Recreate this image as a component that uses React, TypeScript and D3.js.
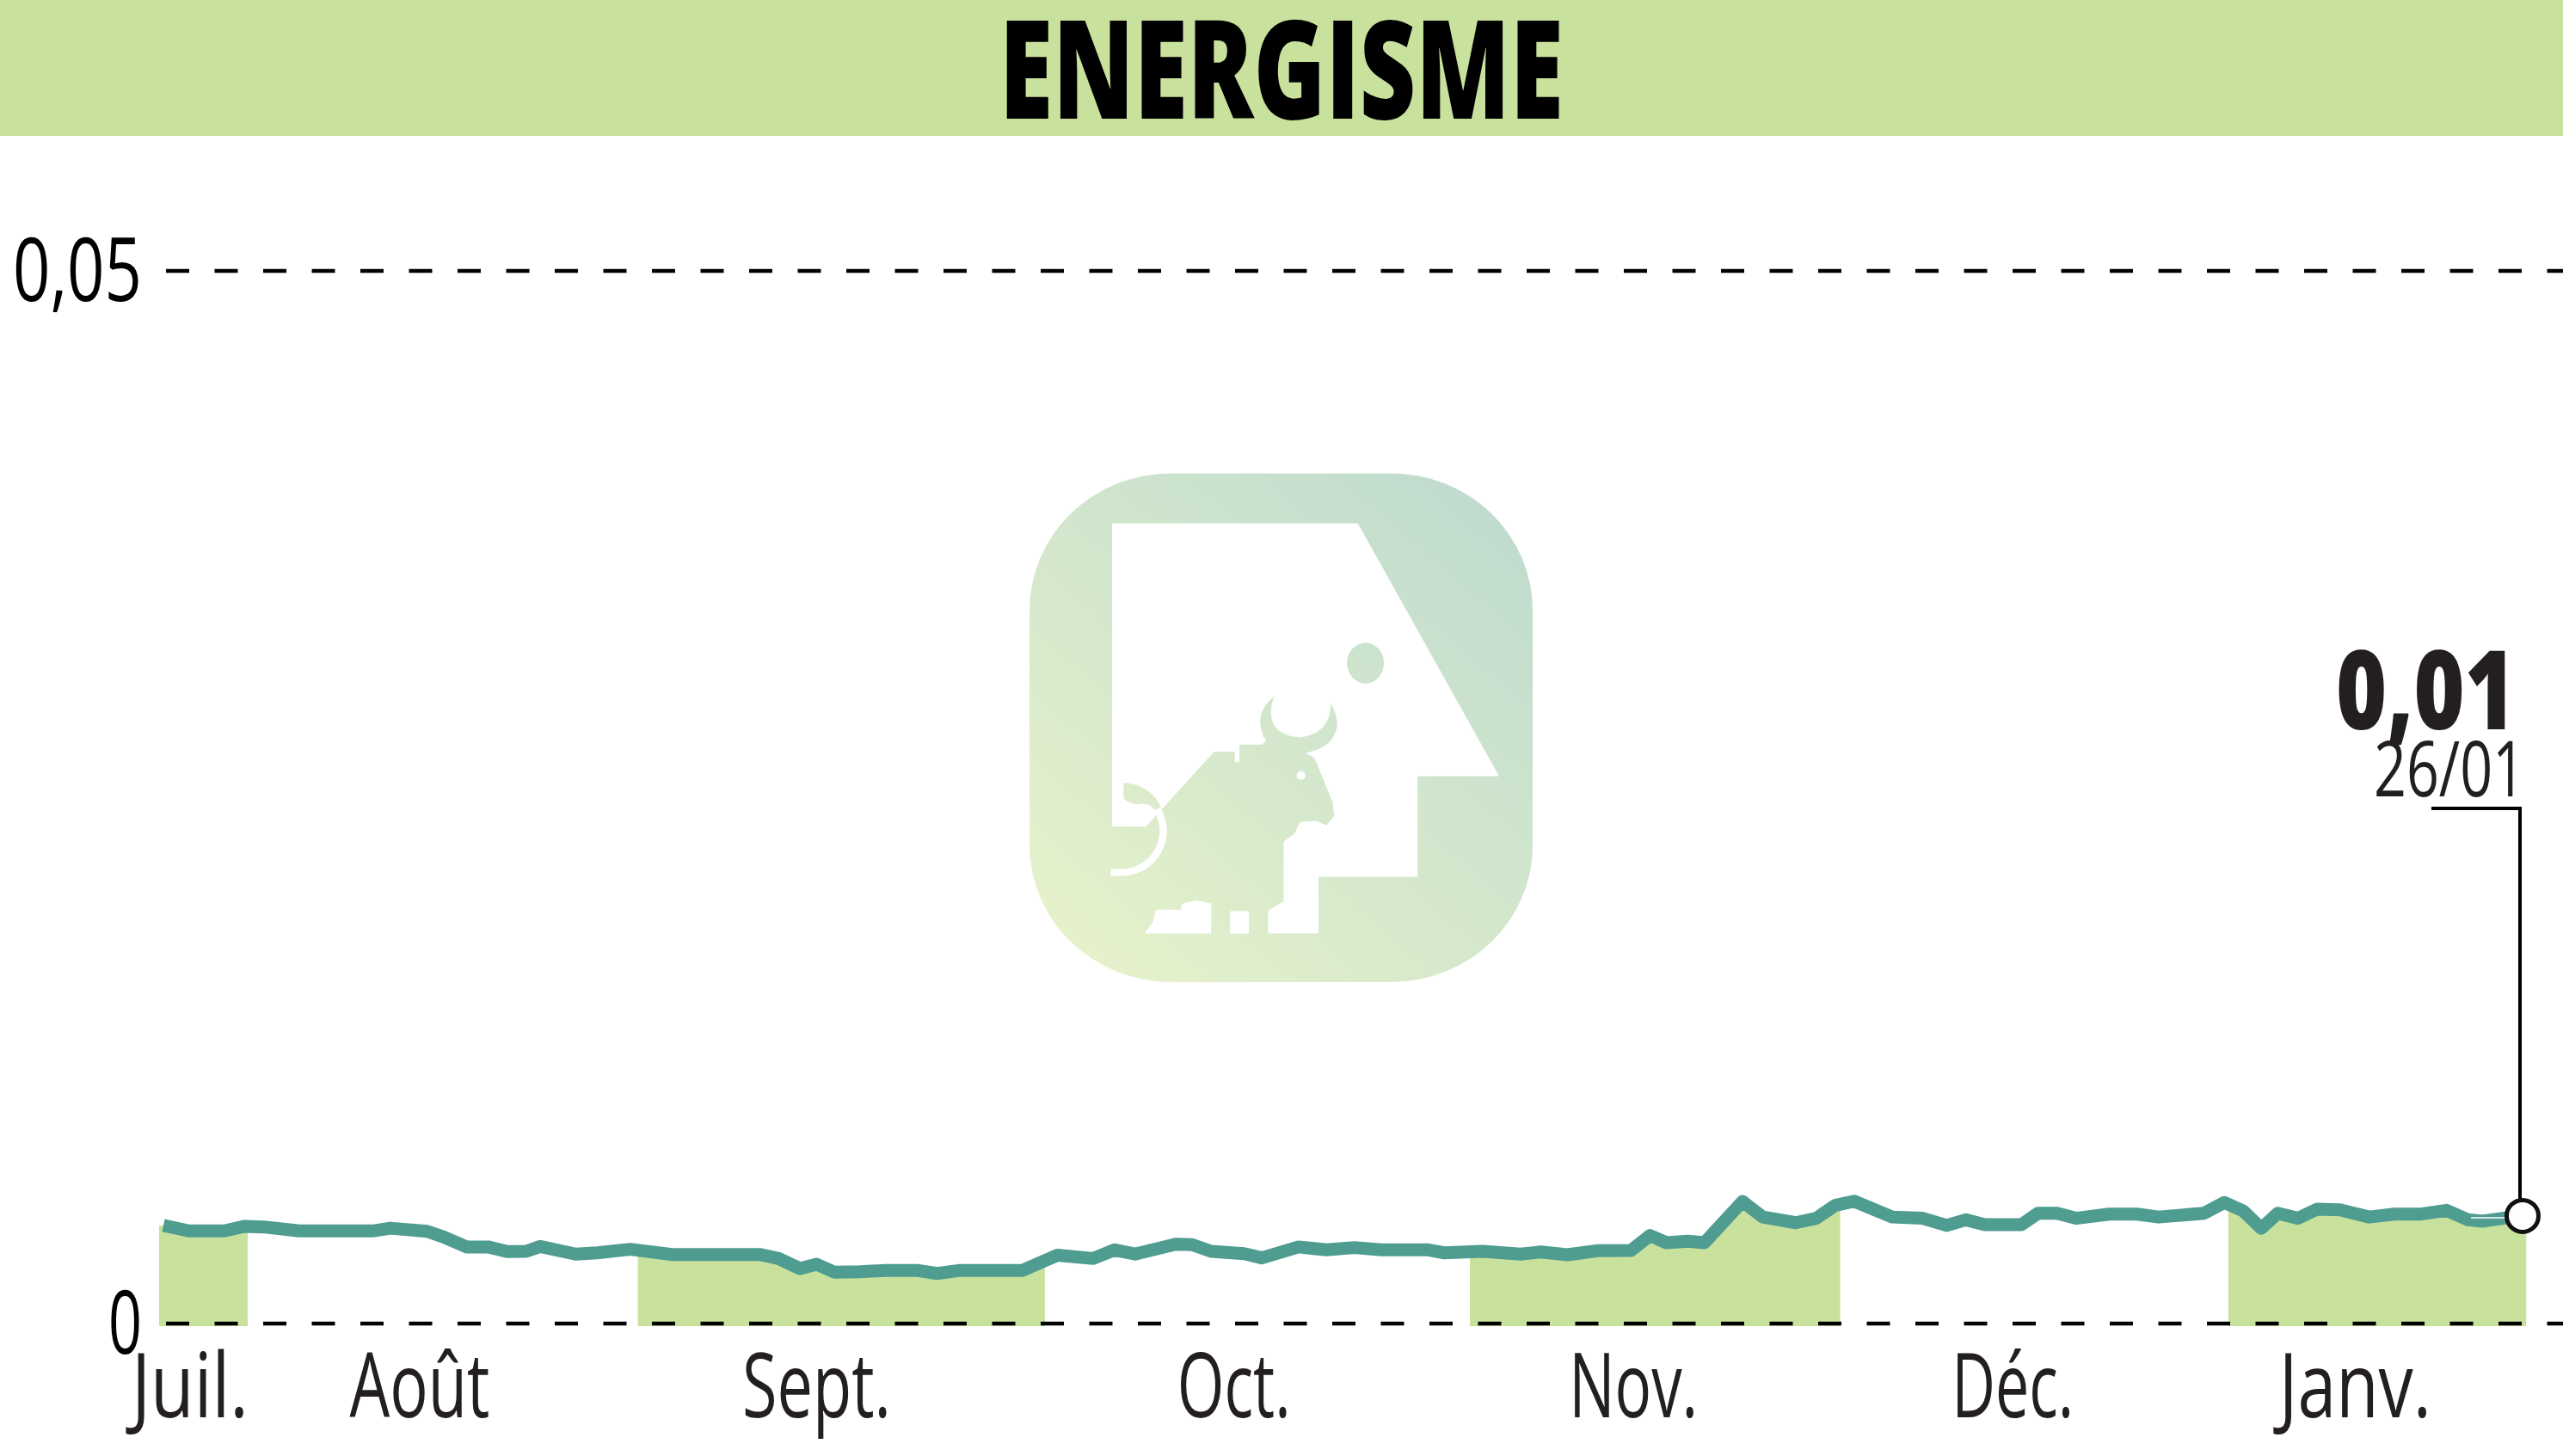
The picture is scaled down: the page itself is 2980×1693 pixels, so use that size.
import * as d3 from 'd3';

const WIDTH = 2980;
const HEIGHT = 1693;

// days since the first session
const days = [
  0, 2, 4.8, 6.4, 7.9, 10.7, 16.5, 17.9, 20.8, 22.1, 23.9, 25.6, 27.1, 28.6, 29.7, 32.5, 34.2, 36.8, 40.1, 47, 48.5,
  50.2, 51.5, 52.9, 54.9, 56.9, 59.5, 61, 62.7, 67.7, 70.5, 73.3, 75, 76.6, 79.8, 81.1, 82.6, 85.2, 86.6, 89.5, 91.7,
  93.9, 96, 99.7, 101, 104, 107, 108.6, 110.7, 113.1, 115.7, 117.2, 118.5, 120.2, 121.5, 124.5, 126.1, 128.7, 130.3,
  131.8, 133.3, 136.3, 138.7, 140.6, 142.1, 143.6, 146.5, 147.8, 149.3, 150.8, 153.4, 155.6, 157.3, 160.9, 162.5, 164,
  165.4, 166.7, 168.3, 169.8, 171.6, 173.9, 175.9, 178, 180, 181.7, 182.8, 184.7, 186,
];

const prices = [
  0.00466, 0.0044, 0.0044, 0.00462, 0.00459, 0.0044, 0.0044, 0.00453, 0.00438, 0.00411, 0.00364, 0.00364, 0.00342,
  0.00343, 0.00366, 0.0033, 0.00336, 0.00353, 0.00328, 0.00328, 0.00309, 0.00261, 0.00282, 0.00244, 0.00246, 0.00252,
  0.00252, 0.00238, 0.00252, 0.00252, 0.00325, 0.00309, 0.0035, 0.0033, 0.00377, 0.00375, 0.00343, 0.00332, 0.00312,
  0.00364, 0.0035, 0.00361, 0.0035, 0.0035, 0.00336, 0.00343, 0.0033, 0.0034, 0.00327, 0.00346, 0.00347, 0.00418,
  0.00384, 0.00391, 0.00384, 0.0058, 0.00506, 0.00479, 0.005, 0.00561, 0.00581, 0.00506, 0.005, 0.00466, 0.00493,
  0.0047, 0.0047, 0.00524, 0.00524, 0.005, 0.0052, 0.0052, 0.00506, 0.00524, 0.00575, 0.00534, 0.00452, 0.00524, 0.005,
  0.00543, 0.0054, 0.00506, 0.0052, 0.0052, 0.00538, 0.00493, 0.00486, 0.00502, 0.00511,
];

const monthLabels = ['Juil.', 'Août', 'Sept.', 'Oct.', 'Nov.', 'Déc.', 'Janv.'];
const monthLabelDays = [2.1, 20.2, 51.5, 84.4, 115.9, 145.8, 172.8];
const monthEdges = [-0.35, 6.65, 37.4, 69.5, 103, 132.2, 162.8, 186.3];
const yTicks = [0, 0.05];
const yTickLabels = ['0', '0,05'];

const title = 'ENERGISME';
const lastValue = '0,01';
const lastDate = '26/01';

const GREEN = '#c8e29d';
const TEAL = '#4f9c91';
const INK = '#231f20';

// text widths, the fonts here are wider than the original condensed one
const monthLabelWidths = [136, 163, 173, 132, 150, 142, 177];
const yLabelWidths = [39, 150];

const x = d3.scaleLinear().domain([0, 186]).range([190, 2933]);
const y = d3.scaleLinear().domain([0, 0.05]).range([1539, 315]);

const points = days.map((d, i) => ({ day: d, price: prices[i] }));

const line = d3
  .line<{ day: number; price: number }>()
  .x((d) => x(d.day))
  .y((d) => y(d.price));

const area = d3
  .area<{ day: number; price: number }>()
  .x((d) => x(d.day))
  .y0(y(0) + 3)
  .y1((d) => y(d.price));

const areaPoints = [{ day: monthEdges[0], price: prices[0] }, ...points, { day: 186.3, price: prices[prices.length - 1] }];

// every other month is shaded
const shaded = monthEdges.slice(0, -1).filter((_, i) => i % 2 === 0);

const Logo = () => (
  <g transform="translate(1160,530) scale(0.4209,0.4085)">
    <rect x="88" y="50" width="1390" height="1448" rx="390" ry="390" fill="url(#logoGrad)" />
    <path
      fill="#fff"
      d="M316 192 L995 192 L1385 912 L1160 912 L1160 1198 L886 1198 L886 1360 L747 1360 L747 1295 L790 1268 L790 1098 L820 1075 L835 1042 L880 1040 L908 1052 L930 1025 L925 985 L875 860 L850 845 Q925 835 938 770 Q938 735 920 705 Q920 790 835 802 Q755 795 755 730 Q755 705 765 685 Q725 715 725 760 Q727 790 742 810 L730 822 L668 822 L668 872 L655 872 L655 842 L598 842 L410 1055 L316 1055 Z"
    />
    <path fill="#fff" d="M405 1360 L430 1325 L437 1292 L505 1292 L510 1275 L550 1265 L590 1275 L590 1360 Z" />
    <rect x="642" y="1296" width="52" height="64" fill="#fff" />
    <circle cx="838" cy="910" r="12" fill="#fff" />
    <ellipse cx="1016" cy="590" rx="51" ry="58" fill="url(#logoGrad)" />
    <path d="M348 930 Q420 935 452 1000 L435 1010 Q420 985 385 992 Q360 990 348 975 Z" fill="url(#logoGrad)" />
    <path d="M312 1185 Q400 1195 440 1130 Q475 1070 440 1005" fill="none" stroke="#fff" strokeWidth="20" />
  </g>
);

const App = () => {
  return (
    <svg
      width={WIDTH}
      height={HEIGHT}
      viewBox={`0 0 ${WIDTH} ${HEIGHT}`}
      style={{ position: 'fixed', left: 0, top: 0, background: '#fff' }}
      fontFamily="'Open Sans'"
    >
      <defs>
        <linearGradient id="logoGrad" gradientUnits="userSpaceOnUse" x1="200" y1="1450" x2="1400" y2="100">
          <stop offset="0" stopColor="#e6f2cb" />
          <stop offset="1" stopColor="#bfdbce" />
        </linearGradient>
        <clipPath id="months">
          {shaded.map((d, i) => (
            <rect key={i} x={x(d)} y={0} width={x(monthEdges[i * 2 + 1]) - x(d)} height={HEIGHT} />
          ))}
        </clipPath>
      </defs>

      <rect x={0} y={0} width={WIDTH} height={158} fill={GREEN} />
      <text x={1162} y={138} fontSize={160} fontWeight={800} fill="#000" textLength={656} lengthAdjust="spacingAndGlyphs">
        {title}
      </text>

      <Logo />

      <path d={area(areaPoints)} fill={GREEN} clipPath="url(#months)" />

      {yTicks.map((t, i) => (
        <g key={t}>
          <line x1={193} x2={WIDTH} y1={y(t)} y2={y(t)} stroke="#000" strokeWidth={4.5} strokeDasharray="27 29.5" />
          <text
            x={165 - yLabelWidths[i]}
            y={y(t) + 35}
            fontSize={102}
            fill="#000"
            textLength={yLabelWidths[i]}
            lengthAdjust="spacingAndGlyphs"
          >
            {yTickLabels[i]}
          </text>
        </g>
      ))}

      <path d={line(points)} fill="none" stroke={TEAL} strokeWidth={15} strokeLinejoin="round" />

      {monthLabels.map((m, i) => (
        <text
          key={m}
          x={x(monthLabelDays[i]) - monthLabelWidths[i] / 2}
          y={1648}
          fontSize={105}
          fill={INK}
          textLength={monthLabelWidths[i]}
          lengthAdjust="spacingAndGlyphs"
        >
          {m}
        </text>
      ))}

      <text x={2716} y={848} fontSize={127} fontWeight={800} fill={INK} textLength={209} lengthAdjust="spacingAndGlyphs">
        {lastValue}
      </text>
      <text x={2760} y={926} fontSize={90} fill={INK} textLength={176} lengthAdjust="spacingAndGlyphs">
        {lastDate}
      </text>

      <path d="M2827 940 H2930 V1396" fill="none" stroke="#000" strokeWidth={4} />
      <line x1={2873} x2={2914} y1={1416} y2={1416} stroke="#fff" strokeWidth={1.5} />
      <circle cx={x(186)} cy={y(prices[prices.length - 1])} r={18.5} fill="#fff" stroke="#111" strokeWidth={5} />
    </svg>
  );
};

export default App;
